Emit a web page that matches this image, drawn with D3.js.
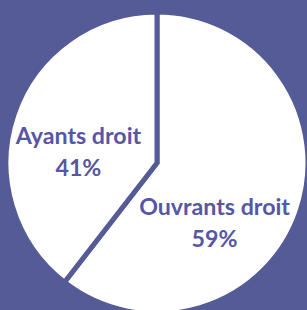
<!DOCTYPE html>
<html><head><meta charset="utf-8">
<script src="https://cdn.jsdelivr.net/npm/d3@7/dist/d3.min.js"></script>
<style>html,body{margin:0;padding:0;background:#555b97;overflow:hidden}</style>
</head><body>
<svg id="chart" width="307" height="310"></svg>
<script>
// Data (order: clockwise from 12 o'clock)
const categories = ["Ouvrants droit", "Ayants droit"];
const shares = [60.5, 39.5];          // slice sizes as drawn in the picture
const percentLabels = ["59%", "41%"]; // percentages printed on the chart

const W = 307, H = 310;
const bg = "#555b97", textColor = "#5656a6";
const cx = 157, cy = 163, R = 151;

const svg = d3.select("#chart");
svg.append("rect").attr("width", W).attr("height", H).attr("fill", bg);

const data = categories.map((c, i) => ({ cat: c, value: shares[i], label: percentLabels[i] }));
const pie = d3.pie().sort(null).value(d => d.value).startAngle(0).endAngle(2 * Math.PI);
const arc = d3.arc().innerRadius(0).outerRadius(R);

const g = svg.append("g").attr("transform", `translate(${cx},${cy})`);
const arcs = pie(data);
g.selectAll("path").data(arcs).enter().append("path")
  .attr("d", arc)
  .attr("fill", "#ffffff")
  .attr("stroke", bg)
  .attr("stroke-width", 5)
  .attr("stroke-linejoin", "miter");

// label placement: centroid of a label arc plus a per-slice nudge
const labelArc = d3.arc().innerRadius(0).outerRadius(R * 1.1);
const nudge = [[-21, 36], [0, 19]];
const lg = g.selectAll("g.lbl").data(arcs).enter().append("g")
  .attr("class", "lbl")
  .attr("transform", (d, i) => {
    const c = labelArc.centroid(d);
    return `translate(${c[0] + nudge[i][0]},${c[1] + nudge[i][1]})`;
  });
const fs = 23.2;
lg.append("text")
  .attr("text-anchor", "middle")
  .attr("font-family", "Lato, 'Open Sans', sans-serif")
  .attr("font-weight", "bold")
  .attr("font-size", fs)
  .attr("fill", textColor)
  .attr("y", -11)
  .text(d => d.data.cat);
lg.append("text")
  .attr("text-anchor", "middle")
  .attr("font-family", "Lato, 'Open Sans', sans-serif")
  .attr("font-weight", "bold")
  .attr("font-size", fs)
  .attr("fill", textColor)
  .attr("y", 21)
  .text(d => d.data.label);
</script>
</body></html>
